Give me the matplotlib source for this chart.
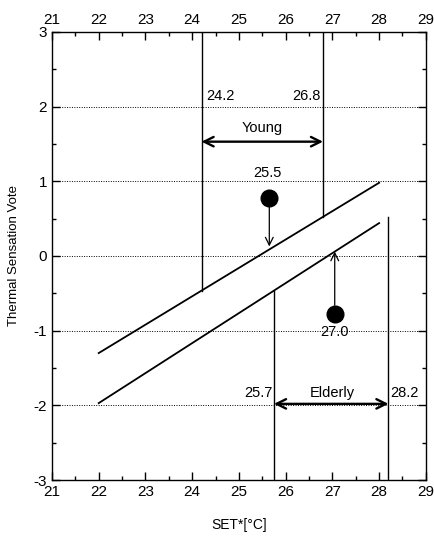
import numpy as np
import matplotlib
matplotlib.use("Agg")
import matplotlib.pyplot as plt
from matplotlib.ticker import MultipleLocator

plt.rcParams['font.family'] = ['Liberation Sans', 'DejaVu Sans']
plt.rcParams['axes.unicode_minus'] = False

# regression lines (SET*, TSV)
young_x = [22.0, 28.0]
young_y = [-1.30, 0.98]
elder_x = [22.0, 28.0]
elder_y = [-1.97, 0.44]

# neutral temperatures / comfort range bounds
young_lo, young_hi = 24.2, 26.8
elder_lo, elder_hi = 25.7, 28.2
young_neutral = 25.5
elder_neutral = 27.0

# mean votes (dots)
dot_young = (25.65, 0.78)
dot_elder = (27.05, -0.78)

grid_levels = [-2, -1, 0, 1, 2]


def line_at(xs, ys, x):
    # straight line through the two end points, extended if needed
    k = (ys[1] - ys[0]) / (xs[1] - xs[0])
    return ys[0] + k * (x - xs[0])


fig = plt.figure(figsize=(4.35, 5.4), dpi=100)
ax = fig.add_axes([0.1195, 0.111, 0.8595, 0.830])

for g in grid_levels:
    ax.axhline(g, color='black', lw=0.7, ls=(0, (1, 1.5)), zorder=1)

ax.plot(young_x, young_y, color='black', lw=1.3)
ax.plot(elder_x, elder_y, color='black', lw=1.3)

# young bounds go from top to the upper line
for xv in (young_lo, young_hi):
    ax.plot([xv, xv], [3, line_at(young_x, young_y, xv)], color='black', lw=1.0)
# elderly bounds go from bottom to the lower line
for xv in (elder_lo + 0.05, elder_hi):
    ax.plot([xv, xv], [-3, line_at(elder_x, elder_y, xv)], color='black', lw=1.0)

# range arrows
ax.annotate('', xy=(young_lo, 1.53), xytext=(young_hi, 1.53),
            arrowprops=dict(arrowstyle='<->', lw=1.7, color='black', mutation_scale=17,
                            shrinkA=0, shrinkB=0))
ax.annotate('', xy=(elder_lo + 0.05, -1.98), xytext=(elder_hi, -1.98),
            arrowprops=dict(arrowstyle='<->', lw=1.7, color='black', mutation_scale=17,
                            shrinkA=0, shrinkB=0))

# dots and arrows to lines
ax.plot(*dot_young, 'o', color='black', ms=12)
ax.plot(*dot_elder, 'o', color='black', ms=12)
ax.annotate('', xy=(dot_young[0], line_at(young_x, young_y, dot_young[0]) + 0.04),
            xytext=(dot_young[0], dot_young[1] - 0.12),
            arrowprops=dict(arrowstyle='->', lw=0.9, color='black', mutation_scale=14,
                            shrinkA=0, shrinkB=0))
ax.annotate('', xy=(dot_elder[0], line_at(elder_x, elder_y, dot_elder[0])),
            xytext=(dot_elder[0], dot_elder[1] + 0.12),
            arrowprops=dict(arrowstyle='->', lw=0.9, color='black', mutation_scale=14,
                            shrinkA=0, shrinkB=0))

fs = 10.5
ax.text(young_lo + 0.1, 2.05, f'{young_lo}', fontsize=fs, ha='left', va='bottom')
ax.text(young_hi - 0.05, 2.05, f'{young_hi}', fontsize=fs, ha='right', va='bottom')
ax.text((young_lo + young_hi) / 2, 1.62, 'Young', fontsize=fs, ha='center', va='bottom')
ax.text(young_neutral + 0.1, 1.02, f'{young_neutral}', fontsize=fs, ha='center', va='bottom')
ax.text(elder_neutral + 0.05, -0.92, f'{elder_neutral}', fontsize=fs, ha='center', va='top')
ax.text(elder_lo + 0.02, -1.93, f'{elder_lo}', fontsize=fs, ha='right', va='bottom')
ax.text(elder_hi + 0.03, -1.93, f'{elder_hi}', fontsize=fs, ha='left', va='bottom')
ax.text(27.0, -1.93, 'Elderly', fontsize=fs, ha='center', va='bottom')

ax.set_xlim(21, 29)
ax.set_ylim(-3, 3)
ax.xaxis.set_major_locator(MultipleLocator(1))
ax.xaxis.set_minor_locator(MultipleLocator(0.5))
ax.yaxis.set_major_locator(MultipleLocator(1))
ax.yaxis.set_minor_locator(MultipleLocator(0.5))
ax.tick_params(which='both', direction='in', top=True, right=True, labeltop=True,
               labelsize=11, width=1.0)
ax.tick_params(which='major', length=6)
ax.tick_params(which='minor', length=3)
for s in ax.spines.values():
    s.set_linewidth(1.0)

ax.set_xlabel('SET*[°C]', fontsize=10, labelpad=14)
ax.set_ylabel('Thermal Sensation Vote', fontsize=9.5, labelpad=10)

fig.savefig('out.png', dpi=100)
